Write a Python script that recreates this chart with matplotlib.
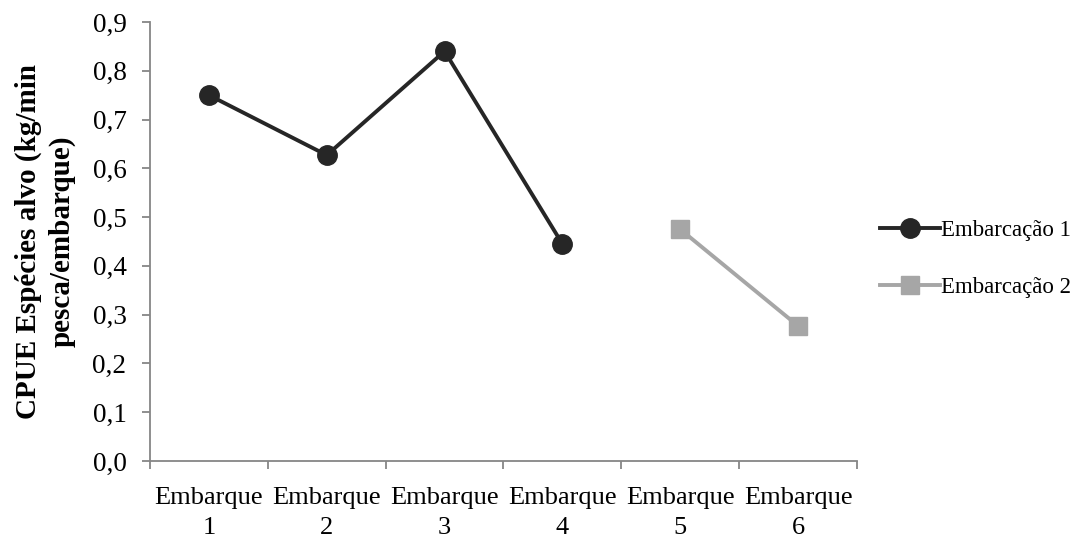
import numpy as np
import matplotlib
matplotlib.use("Agg")
import matplotlib.pyplot as plt

# data
categorias = ["Embarque\n1", "Embarque\n2", "Embarque\n3", "Embarque\n4", "Embarque\n5", "Embarque\n6"]
emb1_x = [0, 1, 2, 3]
emb1_y = [0.75, 0.627, 0.84, 0.445]
emb2_x = [4, 5]
emb2_y = [0.475, 0.277]
yticks = [0.0, 0.1, 0.2, 0.3, 0.4, 0.5, 0.6, 0.7, 0.8, 0.9]

plt.rcParams['font.family'] = ['Liberation Serif', 'DejaVu Serif']
axis_col = '#868686'

fig = plt.figure(figsize=(10.77, 5.35), dpi=100)
ax = fig.add_axes([0.1393, 0.1383, 0.6564, 0.8206])

ax.plot(emb1_x, emb1_y, color='#262626', lw=2.8, marker='o', ms=14, label='Embarcação 1')
ax.plot(emb2_x, emb2_y, color='#a6a6a6', lw=2.8, marker='s', ms=13, label='Embarcação 2')

ax.set_xlim(-0.5, len(categorias) - 0.5)
ax.set_ylim(0, 0.9)
ax.set_yticks(yticks)
ax.set_yticklabels([("%.1f" % v).replace('.', ',') for v in yticks], fontsize=19.5)

# category boundaries as major ticks, labels on minor ticks at centres
ax.set_xticks(np.arange(-0.5, len(categorias), 1.0))
ax.set_xticklabels([])
ax.set_xticks(np.arange(len(categorias)), minor=True)
ax.set_xticklabels(categorias, minor=True, fontsize=19, linespacing=1.45,
                   verticalalignment='top')
ax.tick_params(axis='x', which='minor', length=0, pad=19)
ax.tick_params(axis='both', which='major', length=6, width=1.3, color=axis_col)
ax.tick_params(axis='y', pad=11)

for s in ['top', 'right']:
    ax.spines[s].set_visible(False)
for s in ['left', 'bottom']:
    ax.spines[s].set_color(axis_col)
    ax.spines[s].set_linewidth(1.3)

ax.set_ylabel("CPUE Espécies alvo (kg/min\npesca/embarque)", fontsize=21,
              fontweight='bold', linespacing=1.3, labelpad=12)

ax.legend(loc='center left', bbox_to_anchor=(1.033, 0.46), frameon=False,
          fontsize=16.5, handlelength=2.6, handletextpad=0.05, labelspacing=1.6,
          borderpad=0, borderaxespad=0)

fig.savefig('out.png', dpi=100)
